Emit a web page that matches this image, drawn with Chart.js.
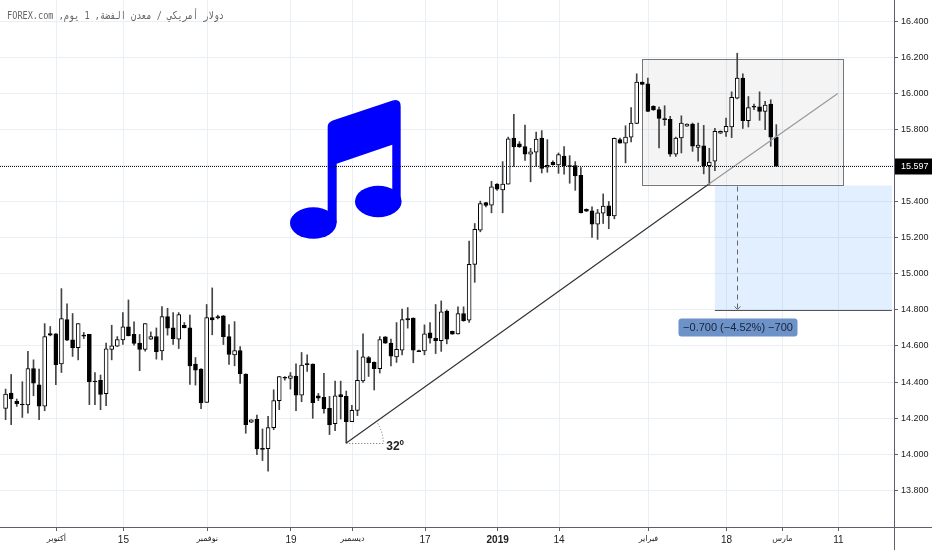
<!DOCTYPE html>
<html>
<head>
<meta charset="utf-8">
<style>
  html, body { margin: 0; padding: 0; background: #fff; }
  canvas { display: block; }
</style>
<script src="https://cdn.jsdelivr.net/npm/chart.js@4/dist/chart.umd.min.js"></script>
</head>
<body>
<canvas id="chart" width="932" height="550"></canvas>
<script>
// daily candles
const opens = [14.254,14.339,14.293,14.278,14.273,14.475,14.385,14.267,14.669,14.667,
  14.501,14.747,14.634,14.590,14.660,14.664,14.405,14.409,14.335,14.581,
  14.599,14.634,14.706,14.664,14.616,14.581,14.638,14.652,14.573,14.763,
  14.700,14.638,14.715,14.700,14.499,14.472,14.287,14.758,14.763,14.767,
  14.652,14.551,14.575,14.444,14.177,14.193,14.033,14.031,14.147,14.297,
  14.426,14.420,14.433,14.328,14.503,14.499,14.324,14.315,14.254,14.169,
  14.330,14.321,14.180,14.243,14.407,14.536,14.509,14.474,14.651,14.616,
  14.540,14.577,14.752,14.754,14.575,14.573,14.673,14.643,14.629,14.793,
  14.682,14.667,14.780,14.743,15.052,15.242,15.395,15.380,15.498,15.465,
  15.497,15.753,15.720,15.705,15.664,15.674,15.753,15.591,15.618,15.604,
  15.653,15.600,15.600,15.546,15.358,15.349,15.275,15.336,15.377,15.321,
  15.744,15.725,15.757,15.834,16.063,16.053,15.928,15.911,15.860,15.856,
  15.664,15.753,15.819,15.830,15.701,15.709,15.600,15.624,15.780,15.786,
  15.815,15.974,16.085,15.849,15.928,15.926,15.900,15.941,15.757];
const closes = [14.333,14.306,14.280,14.273,14.475,14.394,14.267,14.652,14.660,14.496,
  14.752,14.632,14.590,14.724,14.654,14.402,14.402,14.332,14.584,14.601,
  14.636,14.706,14.656,14.614,14.581,14.724,14.652,14.568,14.763,14.699,
  14.641,14.774,14.702,14.490,14.466,14.284,14.758,14.745,14.756,14.652,
  14.553,14.575,14.446,14.164,14.191,14.029,14.027,14.147,14.297,14.431,
  14.422,14.435,14.328,14.494,14.496,14.286,14.310,14.252,14.164,14.324,
  14.319,14.180,14.243,14.409,14.540,14.507,14.474,14.636,14.616,14.544,
  14.581,14.747,14.745,14.577,14.568,14.667,14.643,14.629,14.789,14.638,
  14.665,14.780,14.741,15.052,15.246,15.390,15.379,15.482,15.469,15.497,
  15.749,15.703,15.703,15.664,15.677,15.747,15.585,15.602,15.605,15.661,
  15.600,15.596,15.543,15.338,15.347,15.275,15.338,15.375,15.323,15.751,
  15.725,15.758,15.836,16.063,16.050,15.900,15.908,15.862,15.854,15.664,
  15.753,15.836,15.830,15.707,15.714,15.600,15.620,15.790,15.790,15.817,
  15.978,16.085,15.849,15.921,15.924,15.900,15.935,15.758,15.597];
const highs = [14.361,14.442,14.306,14.402,14.570,14.523,14.472,14.724,14.708,14.669,
  14.918,14.833,14.780,14.724,14.675,14.665,14.453,14.439,14.616,14.715,
  14.652,14.785,14.855,14.734,14.664,14.724,14.678,14.700,14.818,14.809,
  14.785,14.785,14.730,14.771,14.536,14.475,14.830,14.922,14.771,14.769,
  14.719,14.735,14.597,14.446,14.191,14.217,14.140,14.210,14.357,14.431,
  14.431,14.453,14.501,14.564,14.551,14.501,14.337,14.448,14.321,14.405,
  14.405,14.350,14.271,14.575,14.667,14.542,14.512,14.652,14.652,14.638,
  14.730,14.804,14.813,14.756,14.577,14.717,14.730,14.830,14.850,14.800,
  14.682,14.817,14.817,15.181,15.279,15.403,15.397,15.513,15.500,15.622,
  15.758,15.884,15.733,15.825,15.696,15.786,15.794,15.744,15.626,15.670,
  15.705,15.655,15.622,15.589,15.360,15.371,15.357,15.443,15.401,15.753,
  15.753,15.821,15.921,16.109,16.064,16.085,15.932,15.924,15.932,15.873,
  15.758,15.876,15.832,15.836,15.836,15.823,15.696,15.806,15.792,15.863,
  16.009,16.223,16.109,15.983,15.941,16.009,15.956,15.965,15.827];
const lows = [14.191,14.164,14.265,14.204,14.228,14.324,14.191,14.241,14.656,14.385,
  14.453,14.629,14.542,14.523,14.641,14.275,14.275,14.247,14.269,14.523,
  14.597,14.608,14.656,14.605,14.463,14.571,14.636,14.527,14.523,14.660,
  14.608,14.586,14.700,14.387,14.383,14.252,14.287,14.662,14.750,14.608,
  14.498,14.490,14.392,14.116,14.175,13.998,13.965,13.906,14.136,14.247,
  14.411,14.361,14.241,14.291,14.459,14.199,14.297,14.228,14.109,14.131,
  14.195,14.062,14.180,14.214,14.398,14.431,14.356,14.450,14.614,14.490,
  14.509,14.551,14.699,14.507,14.568,14.551,14.616,14.558,14.570,14.612,
  14.665,14.665,14.737,14.731,14.953,15.233,15.371,15.338,15.463,15.338,
  15.497,15.596,15.701,15.629,15.510,15.596,15.559,15.563,15.602,15.557,
  15.552,15.502,15.463,15.338,15.345,15.202,15.191,15.279,15.250,15.305,
  15.725,15.615,15.731,15.832,16.048,15.899,15.906,15.698,15.823,15.651,
  15.651,15.670,15.817,15.679,15.624,15.554,15.495,15.572,15.777,15.762,
  15.755,15.970,15.806,15.814,15.910,15.851,15.799,15.707,15.597];

const xTickPositions = [9.1, 21.1, 36.1, 51.1, 62.1, 75.1, 88.1, 99.1, 115.1, 129.1, 139.1, 149.1];
const xTickLabels = ['أكتوبر', '15', 'نوفمبر', '19', 'ديسمبر', '17', '2019', '14', 'فبراير', '18', 'مارس', '11'];
const yTickValues = [13.8, 14.0, 14.2, 14.4, 14.6, 14.8, 15.0, 15.2, 15.4, 15.6, 15.8, 16.0, 16.2, 16.4];

const lastPrice = 15.597;
const trendXDark = [61, 125.8];
const trendYDark = [14.062, 15.495];
const trendXLight = [125.8, 149];
const trendYLight = [15.495, 16.0];

const ink = '#000';
const tickInk = '#222';
const tickFamily = "'Liberation Sans'";

const overlays = {
  id: 'overlays',
  beforeDatasetsDraw(chart) {
    const { ctx, scales: { x, y } } = chart;
    ctx.save();
    // grey range box
    const bx = x.getPixelForValue(114), bw = x.getPixelForValue(150) - bx;
    const by = y.getPixelForValue(16.192), bh = y.getPixelForValue(15.495) - by;
    ctx.fillStyle = 'rgba(120,120,120,0.08)';
    ctx.fillRect(bx, by, bw, bh);
    ctx.strokeStyle = '#777';
    ctx.lineWidth = 1;
    ctx.strokeRect(Math.round(bx) + 0.5, Math.round(by) + 0.5, Math.round(bw), Math.round(bh));
    // blue measure box
    const mx = x.getPixelForValue(127), mr = x.getPixelForValue(158.7);
    const mTop = y.getPixelForValue(15.495), mBot = y.getPixelForValue(14.797);
    ctx.fillStyle = 'rgba(80,160,250,0.17)';
    ctx.fillRect(mx, mTop + 1, mr - mx, mBot - mTop - 1);
    ctx.strokeStyle = '#555';
    ctx.beginPath();
    ctx.moveTo(mx, Math.round(mBot) + 0.5);
    ctx.lineTo(mr, Math.round(mBot) + 0.5);
    ctx.stroke();
    ctx.restore();
  },
  afterDatasetsDraw(chart) {
    const { ctx, scales: { x, y } } = chart;
    ctx.save();

    // music note, anchored on the chart scales
    const nx = x.getPixelForValue(57.67), ny = y.getPixelForValue(15.817);
    ctx.translate(nx, ny);
    ctx.fillStyle = '#0000ff';
    ctx.beginPath();
    ctx.moveTo(0, 0);
    ctx.quadraticCurveTo(0, -4, 5, -6);
    ctx.lineTo(65, -26);
    ctx.quadraticCurveTo(73, -28, 73, -20);
    ctx.lineTo(73, 76.6);
    ctx.lineTo(64.6, 76.6);
    ctx.lineTo(64.6, 18.3);
    ctx.lineTo(9, 37.3);
    ctx.lineTo(9, 96.6);
    ctx.lineTo(0, 96.6);
    ctx.closePath();
    ctx.fill();
    ctx.beginPath();
    ctx.ellipse(50.6, 75, 23.3, 15.7, 0, 0, Math.PI * 2);
    ctx.fill();
    ctx.beginPath();
    ctx.ellipse(-14.4, 96.6, 23.3, 15.7, 0, 0, Math.PI * 2);
    ctx.fill();
    ctx.setTransform(1, 0, 0, 1, 0, 0);

    // last price line
    const py = Math.round(y.getPixelForValue(lastPrice)) + 0.5;
    ctx.strokeStyle = '#111';
    ctx.lineWidth = 1;
    ctx.setLineDash([1, 1]);
    ctx.beginPath();
    ctx.moveTo(0, py);
    ctx.lineTo(x.right, py);
    ctx.stroke();

    // dashed arrow of the measure tool
    const ax = Math.round(x.getPixelForValue(131)) + 0.5;
    const aTop = y.getPixelForValue(15.495), aBot = y.getPixelForValue(14.797);
    ctx.strokeStyle = '#666';
    ctx.setLineDash([5, 4]);
    ctx.beginPath();
    ctx.moveTo(ax, aTop + 2);
    ctx.lineTo(ax, aBot - 1);
    ctx.stroke();
    ctx.setLineDash([]);
    ctx.beginPath();
    ctx.moveTo(ax - 3, aBot - 4);
    ctx.lineTo(ax, aBot - 1);
    ctx.lineTo(ax + 3, aBot - 4);
    ctx.stroke();

    // measure label
    const lw = 119, lh = 18, lx = ax - 59, ly = y.getPixelForValue(14.703) - 9;
    ctx.fillStyle = '#6d92c7';
    ctx.beginPath();
    ctx.roundRect(lx, ly, lw, lh, 3);
    ctx.fill();
    ctx.fillStyle = '#16233a';
    ctx.font = "11px 'Liberation Sans'";
    ctx.textAlign = 'center';
    ctx.textBaseline = 'middle';
    ctx.fillText('\u22120.700 (\u22124.52%) \u2212700', lx + lw / 2, ly + lh / 2 + 0.5);

    // angle mark of the trend line
    const cx = x.getPixelForValue(trendXDark[0]), cy = y.getPixelForValue(trendYDark[0]);
    ctx.strokeStyle = '#666';
    ctx.setLineDash([1, 2]);
    ctx.beginPath();
    ctx.moveTo(cx, cy + 0.5);
    ctx.lineTo(cx + 37, cy + 0.5);
    ctx.arc(cx, cy, 37, 0, -32 * Math.PI / 180, true);
    ctx.stroke();
    ctx.setLineDash([]);
    ctx.fillStyle = '#222';
    ctx.font = "bold 12px 'Liberation Sans'";
    ctx.textAlign = 'left';
    ctx.textBaseline = 'alphabetic';
    ctx.fillText('32º', cx + 40, cy + 7);

    // header line
    ctx.fillStyle = '#666';
    ctx.font = "11px 'DejaVu Sans Mono'";
    ctx.direction = 'rtl';
    ctx.textAlign = 'right';
    ctx.translate(224, 19);
    ctx.scale(0.78, 1);
    ctx.fillText('دولار أمريكي / معدن الفضة, 1 يوم, FOREX.com', 0, 0);
    ctx.setTransform(1, 0, 0, 1, 0, 0);
    ctx.direction = 'ltr';

    // axis rules
    ctx.strokeStyle = '#5d606b';
    ctx.lineWidth = 1;
    ctx.beginPath();
    ctx.moveTo(0, Math.round(y.bottom) + 0.5);
    ctx.lineTo(chart.width, Math.round(y.bottom) + 0.5);
    ctx.moveTo(Math.round(x.right) + 0.5, 0);
    ctx.lineTo(Math.round(x.right) + 0.5, chart.height);
    ctx.stroke();

    // last price tag
    ctx.fillStyle = '#000';
    ctx.fillRect(x.right + 1, py - 8, chart.width - x.right - 1, 16);
    ctx.fillStyle = '#fff';
    ctx.font = '9px ' + tickFamily;
    ctx.textAlign = 'left';
    ctx.textBaseline = 'middle';
    ctx.fillText(lastPrice.toFixed(3), x.right + 7, py + 0.5);
    ctx.restore();
  }
};

new Chart(document.getElementById('chart'), {
  type: 'bar',
  data: {
    datasets: [
      {
        type: 'line',
        data: trendXDark.map((v, i) => ({ x: v, y: trendYDark[i] })),
        borderColor: '#333',
        borderWidth: 1.2,
        pointRadius: 0,
        order: 0
      },
      {
        type: 'line',
        data: trendXLight.map((v, i) => ({ x: v, y: trendYLight[i] })),
        borderColor: '#999',
        borderWidth: 1.2,
        pointRadius: 0,
        order: 0
      },
      {
        // candle bodies
        data: opens.map((o, i) => ({ x: i, y: [o, closes[i]] })),
        backgroundColor: opens.map((o, i) => closes[i] >= o ? '#fff' : ink),
        borderColor: ink,
        borderWidth: 1,
        borderSkipped: false,
        barThickness: 4,
        grouped: false,
        order: 1
      },
      {
        // wicks
        data: lows.map((l, i) => ({ x: i, y: [l, highs[i]] })),
        backgroundColor: '#444',
        borderWidth: 0,
        barThickness: 1,
        grouped: false,
        order: 2
      }
    ]
  },
  options: {
    responsive: false,
    animation: false,
    layout: { padding: 0 },
    plugins: { legend: { display: false }, tooltip: { enabled: false } },
    scales: {
      x: {
        type: 'linear',
        offset: false,
        min: -1,
        max: 159.07,
        afterFit: s => { s.height = 23; s.paddingLeft = 0; s.paddingRight = 0; },
        afterBuildTicks: s => { s.ticks = xTickPositions.map(v => ({ value: v })); },
        border: { display: false },
        grid: { offset: false, color: '#e8f0f6', tickColor: '#5d606b', tickLength: 4 },
        ticks: {
          autoSkip: false,
          maxRotation: 0,
          color: tickInk,
          padding: 3,
          font: c => {
            const label = xTickLabels[xTickPositions.indexOf(c.tick && c.tick.value)] || '';
            if (label === '2019') return { family: tickFamily, size: 10, weight: 'bold' };
            if (/^\d+$/.test(label)) return { family: tickFamily, size: 10 };
            return { family: "'DejaVu Sans'", size: 8 };
          },
          callback: v => xTickLabels[xTickPositions.indexOf(v)]
        }
      },
      y: {
        type: 'linear',
        position: 'right',
        min: 13.5965,
        max: 16.518,
        afterFit: s => { s.width = 38; s.paddingTop = 0; s.paddingBottom = 0; },
        afterBuildTicks: s => { s.ticks = yTickValues.map(v => ({ value: v })); },
        border: { display: false },
        grid: { color: '#e8f0f6', tickColor: '#5d606b', tickLength: 4 },
        ticks: {
          color: tickInk,
          padding: 3,
          font: { family: tickFamily, size: 9 },
          callback: v => v.toFixed(3)
        }
      }
    }
  },
  plugins: [overlays]
});
</script>
</body>
</html>
